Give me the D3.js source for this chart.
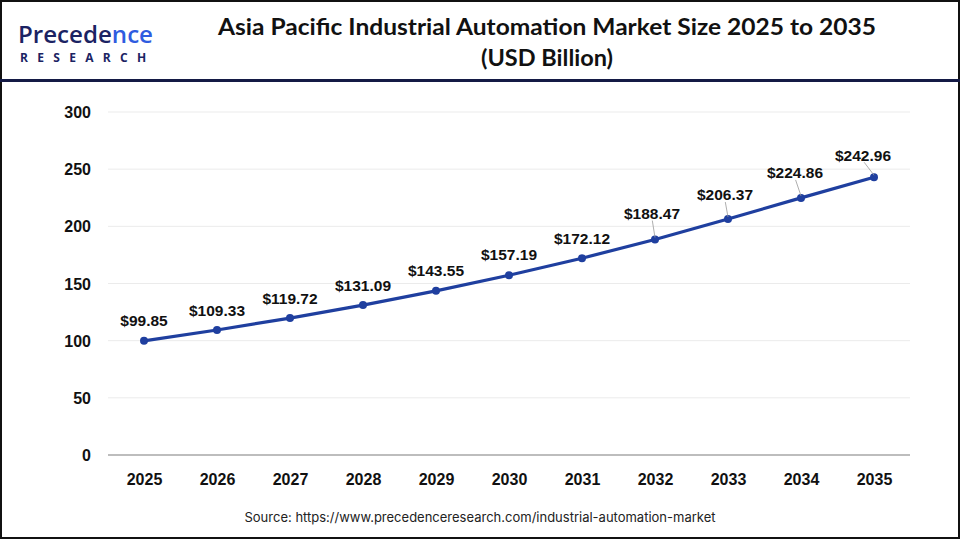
<!DOCTYPE html>
<html><head><meta charset="utf-8">
<script src="https://cdn.jsdelivr.net/npm/d3@7"></script>
<style>body{margin:0;background:#fff}svg{display:block}</style>
</head><body><svg id="c" width="960" height="540"></svg>
<script>
const years = ["2025","2026","2027","2028","2029","2030","2031","2032","2033","2034","2035"];
const values = [99.85,109.33,119.72,131.09,143.55,157.19,172.12,188.47,206.37,224.86,242.96];
const yTicks = [0,50,100,150,200,250,300];
const leader = [false,false,false,false,false,false,false,true,true,true,true];

const svg = d3.select("#c");
svg.append("rect").attr("x",1).attr("y",1).attr("width",958).attr("height",537).attr("fill","#fff").attr("stroke","#111").attr("stroke-width",2);
svg.append("line").attr("x1",0).attr("x2",960).attr("y1",80.5).attr("y2",80.5).attr("stroke","#141a45").attr("stroke-width",3);

// logo
const lg = svg.append("g");
lg.append("text").attr("x",18).attr("y",43).attr("font-family","'Open Sans', sans-serif").attr("font-size",23).attr("font-weight",600)
  .attr("fill","#1b2363").attr("textLength",135).attr("lengthAdjust","spacingAndGlyphs")
  .selectAll("tspan").data([["P","#1b2363"],["recede","#1b2363"],["nce","#2f5ce0"]]).join("tspan").attr("fill",d=>d[1]).text(d=>d[0]);
lg.append("text").attr("x",20).attr("y",62).attr("font-family","'Open Sans', sans-serif").attr("font-size",12).attr("font-weight",700)
  .attr("fill","#1b2363").attr("letter-spacing",9.3).text("RESEARCH");

// title
const tt = svg.append("g").attr("font-family","Lato, 'Open Sans', sans-serif").attr("font-weight",700).attr("font-size",23.5).attr("fill","#111").attr("text-anchor","middle");
tt.append("text").attr("x",547).attr("y",35).attr("textLength",658).attr("lengthAdjust","spacingAndGlyphs").text("Asia Pacific Industrial Automation Market Size 2025 to 2035");
tt.append("text").attr("x",547).attr("y",66).text("(USD Billion)");

const x = d3.scalePoint().domain(years).range([144,874]);
const y = d3.scaleLinear().domain([0,300]).range([455,112]);

// grid
svg.append("g").selectAll("line").data(yTicks).join("line")
  .attr("x1",108).attr("x2",910).attr("y1",d=>y(d)).attr("y2",d=>y(d))
  .attr("stroke",d=>d===0?"#bdbdbd":"#ebebeb").attr("stroke-width",d=>d===0?2:1);

const yAxis = d3.axisLeft(y).tickValues(yTicks).tickSize(0).tickPadding(0);
const ya = svg.append("g").attr("transform","translate(91,0)").call(yAxis);
ya.select(".domain").remove();
ya.selectAll("text").attr("font-family","Arial, 'Liberation Sans', sans-serif").attr("font-size",16).attr("font-weight",700).attr("fill","#111").attr("dy","0.35em");

const xAxis = d3.axisBottom(x).tickSize(0).tickPadding(0);
const xa = svg.append("g").attr("transform","translate(0,474)").call(xAxis);
xa.select(".domain").remove();
xa.selectAll("text").attr("font-family","Arial, 'Liberation Sans', sans-serif").attr("font-size",16).attr("font-weight",700).attr("fill","#111");

const line = d3.line().x((d,i)=>x(years[i])).y(d=>y(d));
svg.append("path").datum(values).attr("d",line).attr("fill","none").attr("stroke","#1f3f9f").attr("stroke-width",3.2);
svg.append("g").selectAll("circle").data(values).join("circle")
  .attr("cx",(d,i)=>x(years[i])).attr("cy",d=>y(d)).attr("r",4).attr("fill","#1f3f9f");

// labels
const offs = [20,19,20,20,20,21,20,26,24,25,22];
const dx = [0,0,0,0,0,0,0,-3,-3,-6,-11];
const lab = svg.append("g");
values.forEach((v,i)=>{
  const px = x(years[i]), py = y(v);
  const ly = py - offs[i];
  if (leader[i]) {
    lab.append("line").attr("x1",px+dx[i]*0.9).attr("y1",ly+7).attr("x2",px).attr("y2",py-2)
      .attr("stroke","#999").attr("stroke-width",0.8);
  }
  lab.append("text").attr("x",px+dx[i]).attr("y",ly).attr("dy","0.35em").attr("text-anchor","middle")
    .attr("font-family","Arial, 'Liberation Sans', sans-serif").attr("font-size",15.5).attr("font-weight",700).attr("fill","#111")
    .text("$"+v.toFixed(2));
});

svg.append("text").attr("x",480).attr("y",522).attr("text-anchor","middle")
  .attr("font-family","Inter, 'Open Sans', sans-serif").attr("font-size",13).attr("fill","#222")
  .text("Source: https://www.precedenceresearch.com/industrial-automation-market");
</script></body></html>
